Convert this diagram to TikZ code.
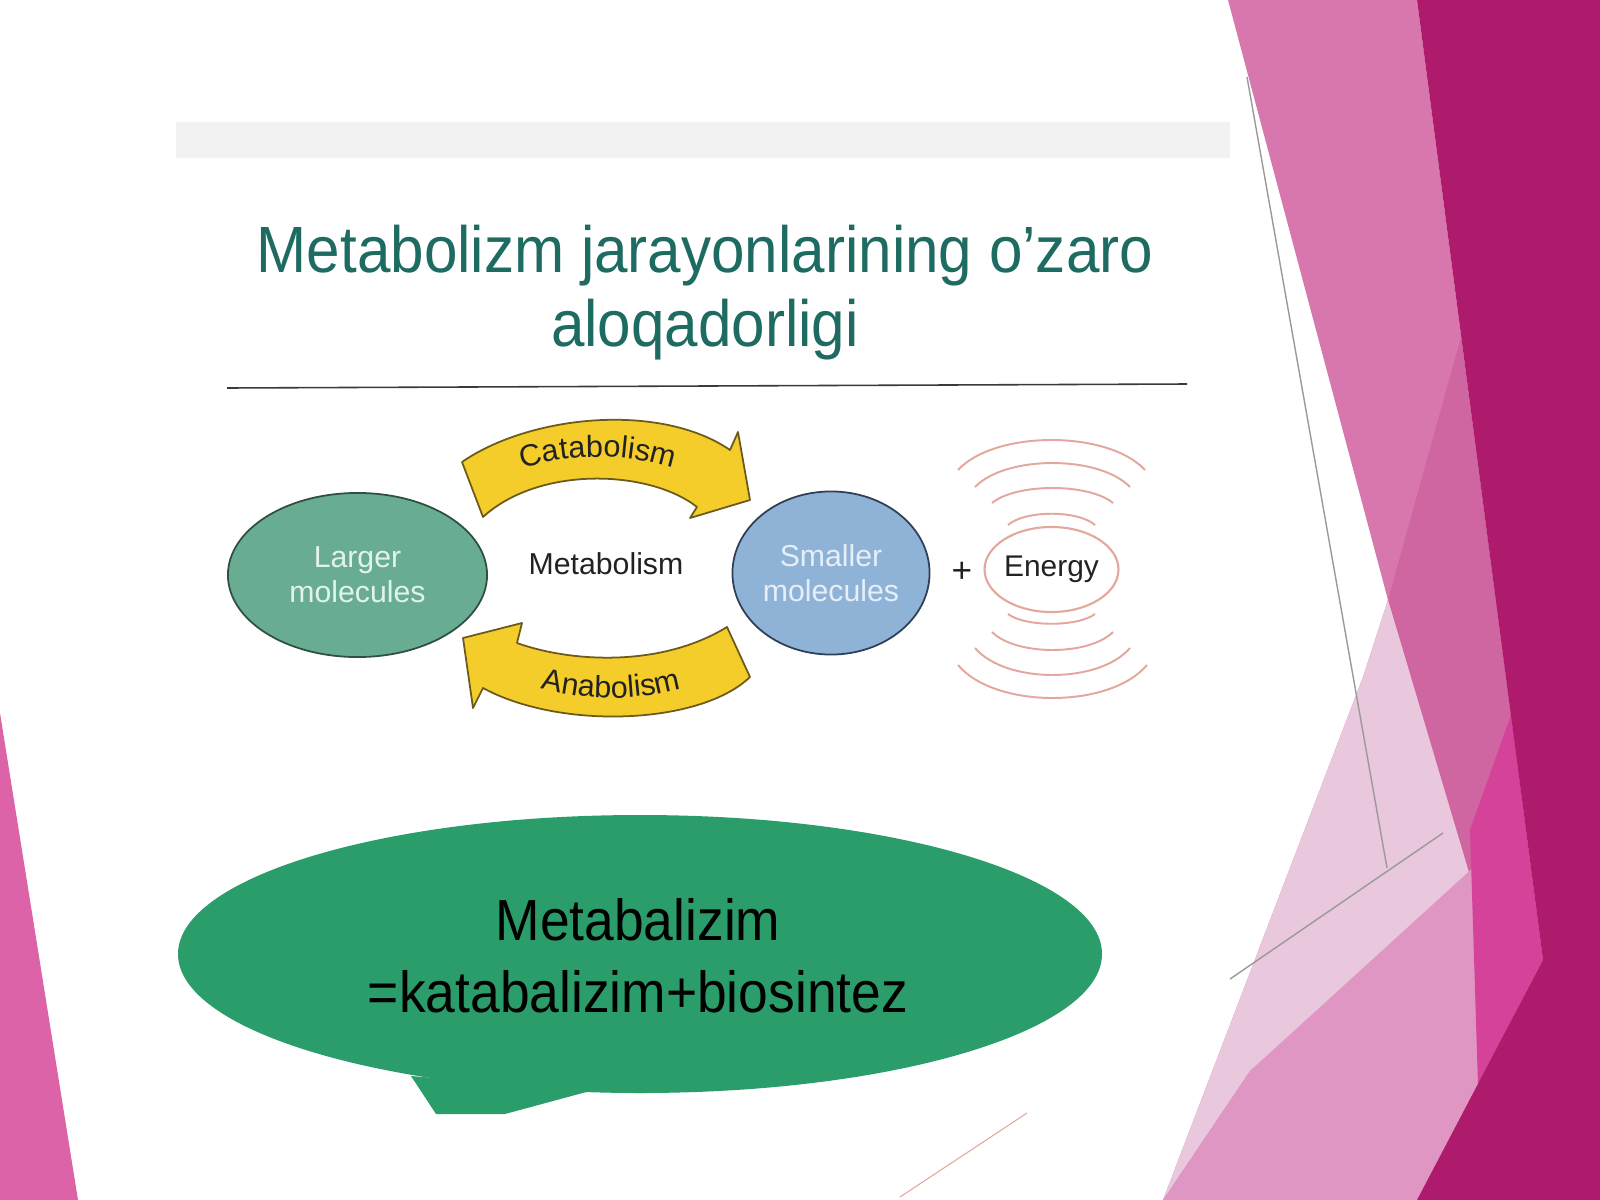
\documentclass[tikz,border=0pt]{standalone}
\usepackage{fontspec}
\setmainfont{Liberation Sans}
\newfontfamily\titlefont[FakeStretch=0.92]{Liberation Sans}
\usetikzlibrary{shapes.geometric,decorations.text}
\definecolor{titlec}{HTML}{1E6B62}
\definecolor{rulec}{HTML}{3A3A3A}
\definecolor{bandc}{HTML}{F2F2F2}
\definecolor{largec}{HTML}{68AD92}
\definecolor{largeedge}{HTML}{2F4F44}
\definecolor{largetxt}{HTML}{E2F4EA}
\definecolor{smallc}{HTML}{8FB3D6}
\definecolor{smalledge}{HTML}{2F3F55}
\definecolor{smalltxt}{HTML}{E6EEF8}
\definecolor{ringc}{HTML}{E4A79D}
\definecolor{arrowyellow}{HTML}{F5CD2A}
\definecolor{arrowedge}{HTML}{6B5A1C}
\definecolor{txtdark}{HTML}{222222}
\definecolor{bubblec}{HTML}{2A9D6B}
\definecolor{pkM}{HTML}{D877AD}
\definecolor{pkW}{HTML}{CF65A1}
\definecolor{pkH}{HTML}{D5429A}
\definecolor{pkP}{HTML}{E9C7DC}
\definecolor{pkQ}{HTML}{E096C2}
\definecolor{pkD}{HTML}{AE1B6C}
\definecolor{pkL}{HTML}{DC63A7}
\definecolor{thinline}{HTML}{9A9A9A}
\tikzset{
  diagtext/.style={font=\fontsize{8.6}{10.2}\selectfont, inner sep=0pt},
  yarrow/.style={fill=arrowyellow, draw=arrowedge, line width=0.5pt, line join=round},
  ringarc/.style={draw=ringc, line width=0.55pt},
  molecule/.style={ellipse, draw, line width=0.5pt, inner sep=0pt, align=center,
    font=\fontsize{8.6}{10}\selectfont},
  thinrule/.style={draw=thinline, line width=0.4pt},
  bubbletext/.style={font=\titlefont\fontsize{16.5}{20}\selectfont, text=black, anchor=base, inner sep=0pt}
}
\begin{document}
\begin{tikzpicture}[x=0.01cm,y=0.01cm]
\useasboundingbox (0,0) rectangle (1600,-1200);
\fill[white] (0,0) rectangle (1600,-1200);
% light grey band at the top
\fill[bandc] (176,-122) rectangle (1230,-158);
% right-hand pink facets
\fill[pkM] (1228,0) -- (1417,0) -- (1543,-960) -- (1417,-1200) -- (1163,-1200) -- (1363,-677) -- (1388,-600) -- cycle;
\fill[pkW] (1461,-337) -- (1511,-715) -- (1470,-876) -- (1388,-600) -- cycle;
\fill[pkP] (1363,-677) -- (1388,-600) -- (1470,-876) -- (1250,-1071) -- (1163,-1200) -- cycle;
\fill[pkQ] (1475,-866) -- (1478,-1085) -- (1417,-1200) -- (1163,-1200) -- (1250,-1071) -- cycle;
\fill[pkH] (1511,-715) -- (1543,-960) -- (1478,-1085) -- (1470,-830) -- cycle;
\fill[pkD] (1417,0) -- (1600,0) -- (1600,-1200) -- (1417,-1200) -- (1543,-960) -- cycle;
\coordinate (la) at (1247,-77);
\coordinate (lb) at (1387,-868);
\coordinate (lc) at (1443,-833);
\coordinate (ld) at (1230,-979);
\coordinate (le) at (1027,-1113);
\coordinate (lf) at (900,-1197);
\draw[thinrule] (la) -- (lb);
\draw[thinrule] (lc) -- (ld);
\draw[thinrule, draw=ringc, line width=0.3pt] (le) -- (lf);
% left pink triangle
\fill[pkL] (0,-713) -- (78,-1200) -- (0,-1200) -- cycle;

% title
\node[font=\titlefont\fontsize{18.6}{22}\selectfont, text=titlec, anchor=base, inner sep=0pt] (t1) at (705,-272) {Metabolizm jarayonlarining o’zaro};
\node[font=\titlefont\fontsize{18.6}{22}\selectfont, text=titlec, anchor=base, inner sep=0pt] (t2) at (705,-346) {aloqadorligi};
\coordinate (ruleA) at (227,-388);
\coordinate (ruleB) at (1187,-384);
\draw[draw=rulec, line width=0.45pt] (ruleA) -- (ruleB);

% molecules
\node[molecule, fill=largec, draw=largeedge, text=largetxt, minimum width=2.59cm, minimum height=1.64cm] (larger) at (357.5,-575) {Larger\\molecules};
\node[molecule, fill=smallc, draw=smalledge, text=smalltxt, minimum width=1.97cm, minimum height=1.63cm] (smaller) at (831,-573) {Smaller\\molecules};
\node[diagtext, text=txtdark] (metab) at (606,-564) {Metabolism};
\node[diagtext, text=txtdark, font=\fontsize{10}{12}\selectfont] (plus) at (962,-572) {+};
\node[ellipse, draw=ringc, line width=0.6pt, inner sep=0pt, minimum width=1.33cm, minimum height=0.85cm, font=\fontsize{8.5}{10}\selectfont, text=txtdark] (energy) at (1051.5,-569.5) {Energy};

% energy rings
\draw[ringarc] (958,-470) .. controls (995,-430) and (1108,-430) .. (1145,-470);
\draw[ringarc] (975,-487) .. controls (1006,-455) and (1099,-455) .. (1130,-487);
\draw[ringarc] (992,-503) .. controls (1016,-483) and (1089,-483) .. (1113,-503);
\draw[ringarc] (1008,-525) .. controls (1025,-510) and (1078,-510) .. (1095,-525);
\draw[ringarc] (1008,-614) .. controls (1025,-627) and (1078,-627) .. (1095,-614);
\draw[ringarc] (992,-632) .. controls (1016,-656) and (1089,-656) .. (1113,-632);
\draw[ringarc] (975,-648) .. controls (1006,-684) and (1099,-684) .. (1130,-648);
\draw[ringarc] (958,-665) .. controls (995,-709) and (1110,-709) .. (1147,-665);

% catabolism arrow
\draw[yarrow] (462,-462) .. controls (530,-415) and (660,-402) .. (730,-450) -- (738,-432) -- (750,-500) -- (690,-518) -- (697,-507) .. controls (650,-470) and (540,-465) .. (483,-517) -- cycle;
\path[decorate, decoration={text along path, text={|\fontsize{8.7}{10}\selectfont|Catabolism}, text color=txtdark, text align=center}]
  (598,-714) ++(115:257) arc[start angle=115, end angle=65, radius=257];
% anabolism arrow
\draw[yarrow] (727,-627) -- (750,-677) .. controls (700,-725) and (560,-730) .. (483,-688) -- (473,-708) -- (463,-638) -- (522,-623) -- (517,-643) .. controls (570,-662) and (660,-668) .. (727,-627) -- cycle;
\path[decorate, decoration={text along path, text={|\fontsize{8.7}{10}\selectfont|Anabolism}, text color=txtdark, text align=center}]
  (611,-429) ++(245:269) arc[start angle=245, end angle=295, radius=269];

% speech bubble
\fill[bubblec] (411,-1076) -- (436,-1114) -- (505,-1114) -- (590,-1091) -- cycle;
\fill[bubblec] (640,-954) ellipse [x radius=462, y radius=139];
\node[bubbletext] (bub1) at (638,-940) {Metabalizim};
\node[bubbletext] (bub2) at (638,-1012) {=katabalizim+biosintez};
\end{tikzpicture}
\end{document}
